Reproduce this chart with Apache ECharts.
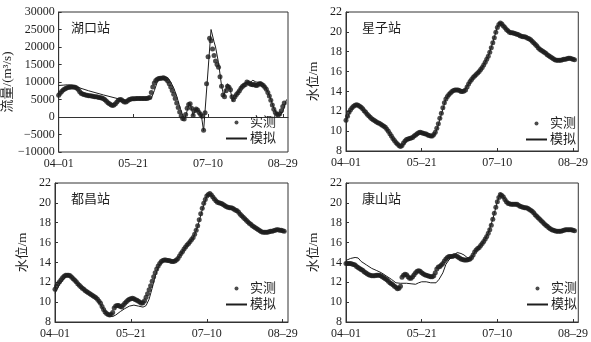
<!DOCTYPE html>
<html><head><meta charset="utf-8">
<script src="https://cdn.jsdelivr.net/npm/echarts@6/dist/echarts.min.js"></script>
<style>html,body{margin:0;padding:0;background:#fff}#c{width:591px;height:342px}</style>
</head><body><div id="c"></div>
<script>
// x positions are days counted from 04-01
const xTickDays = [0, 50, 100, 150];
const xTickLabels = ['04–01', '05–21', '07–10', '08–29'];
const stationNames = ['湖口站', '星子站', '都昌站', '康山站'];
const yAxisNames = ['流量/(m³/s)', '水位/m', '水位/m', '水位/m'];
const legendNames = ['实测', '模拟'];

// observed (daily, day 0 = 04-01)
const obsHukou = [6200,6800,7300,7700,8000,8200,8400,8500,8600,8600,8600,8500,8300,7900,7300,6800,6600,6400,6300,6200,
6100,6100,6000,5900,5800,5800,5700,5600,5500,5400,5200,4900,4500,4100,3800,3500,3300,3400,3800,4300,
4800,5000,4900,4600,4300,4300,4600,4900,5100,5200,5200,5200,5300,5300,5300,5300,5300,5300,5300,5300,
5400,5600,7000,8600,9700,10400,10800,11000,11100,11100,11200,11100,10800,10300,9500,8600,7600,6500,5300,4000,
2700,1400,300,-400,-600,700,2500,3600,3800,2500,400,1800,2300,2000,1300,700,200,-3800,1200,9500,
17200,22500,21800,19400,17600,16000,15000,14200,11500,8800,6300,5800,7500,8800,8500,7800,5800,4900,5800,6400,
6900,7500,8200,8700,9100,9300,10000,9800,9500,9300,9200,9300,9000,9100,9400,9600,9300,9000,8500,7900,
7000,6000,4800,3400,2200,1300,800,600,900,1800,3000,4000];
const obsXingzi = [11.1,11.5,11.9,12.15,12.35,12.5,12.6,12.65,12.6,12.5,12.4,12.25,12.05,11.9,11.7,11.55,11.4,11.25,11.15,11.05,
10.95,10.85,10.8,10.7,10.6,10.5,10.4,10.2,10.0,9.75,9.5,9.25,9.05,8.85,8.7,8.55,8.45,8.55,8.8,9.0,
9.15,9.2,9.25,9.3,9.35,9.5,9.6,9.75,9.85,9.9,9.85,9.8,9.75,9.7,9.6,9.55,9.5,9.5,9.65,9.9,
10.3,10.75,11.3,11.8,12.35,12.85,13.25,13.5,13.7,13.85,14.0,14.1,14.15,14.15,14.15,14.1,14.0,14.0,14.05,14.15,
14.45,14.75,15.0,15.2,15.4,15.55,15.7,15.85,16.0,16.2,16.4,16.65,16.95,17.25,17.55,17.95,18.4,18.9,19.4,19.95,
20.45,20.75,20.9,20.8,20.6,20.45,20.25,20.1,19.95,19.9,19.9,19.85,19.8,19.75,19.7,19.6,19.55,19.5,19.5,19.45,
19.35,19.3,19.2,19.05,18.9,18.75,18.6,18.4,18.25,18.15,18.05,17.95,17.85,17.7,17.6,17.5,17.4,17.3,17.2,17.15,
17.15,17.15,17.15,17.2,17.25,17.25,17.3,17.35,17.35,17.3,17.25,17.2];
const obsDuchang = [11.3,11.6,11.85,12.05,12.25,12.45,12.6,12.7,12.7,12.7,12.65,12.5,12.35,12.2,12.05,11.85,11.7,11.55,11.4,11.3,
11.15,11.05,10.95,10.85,10.75,10.65,10.55,10.45,10.3,10.1,9.9,9.55,9.25,9.0,8.85,8.75,8.7,8.75,8.95,9.4,
9.6,9.65,9.65,9.55,9.5,9.7,9.9,10.05,10.2,10.3,10.35,10.4,10.35,10.25,10.2,10.1,10.0,9.9,9.95,10.15,
10.5,10.85,11.25,11.65,12.1,12.55,12.95,13.35,13.65,13.9,14.1,14.2,14.25,14.25,14.2,14.2,14.15,14.1,14.1,14.15,
14.25,14.4,14.65,14.9,15.1,15.35,15.55,15.75,15.9,16.1,16.3,16.5,16.85,17.25,17.7,18.3,18.9,19.45,19.95,20.35,
20.7,20.85,20.95,20.8,20.6,20.4,20.2,20.05,20.0,19.95,19.9,19.8,19.7,19.6,19.55,19.5,19.5,19.45,19.35,19.25,
19.2,19.05,18.85,18.7,18.55,18.4,18.25,18.1,17.95,17.85,17.7,17.6,17.5,17.4,17.3,17.2,17.1,17.05,17.05,17.05,
17.05,17.1,17.15,17.15,17.2,17.25,17.3,17.3,17.25,17.25,17.2,17.15];
const obsKangshan = [13.9,13.9,13.9,13.9,13.85,13.8,13.75,13.6,13.5,13.4,13.3,13.2,13.05,12.95,12.85,12.75,12.7,12.65,12.65,12.65,
12.7,12.7,12.7,12.65,12.55,12.45,12.35,12.25,12.1,11.95,11.85,11.75,11.6,11.5,11.35,11.4,11.6,12.5,12.7,12.8,
12.75,12.55,12.4,12.4,12.55,12.75,12.95,13.1,13.15,13.1,12.95,12.85,12.75,12.7,12.65,12.6,12.55,12.55,12.65,12.95,
13.35,13.55,13.6,13.75,13.9,14.15,14.35,14.5,14.6,14.6,14.6,14.65,14.7,14.65,14.55,14.45,14.35,14.3,14.25,14.25,
14.25,14.3,14.35,14.5,14.75,15.05,15.25,15.4,15.5,15.7,15.9,16.1,16.35,16.6,16.95,17.3,17.75,18.35,18.95,19.55,
20.1,20.55,20.85,20.75,20.6,20.35,20.1,19.95,19.9,19.85,19.85,19.85,19.85,19.85,19.75,19.65,19.6,19.55,19.5,19.5,
19.45,19.35,19.25,19.15,19.0,18.8,18.65,18.5,18.35,18.2,18.05,17.9,17.75,17.65,17.5,17.4,17.3,17.25,17.2,17.15,
17.15,17.15,17.15,17.2,17.25,17.3,17.3,17.3,17.3,17.3,17.25,17.2];

// simulated (vertices: day, value)
const simHukouDays = [0,3,6,9,12,20,30,40,45,50,55,60,62,64,66,68,71,73,75,77,79,81,83,84.5,86,87.5,88.5,90,91,92,94,95.5,97,102,104,105,107,109,110.5,112,113,114,115,116.5,118,120,122,125,126,128,130,131,132,133,134,136,138,140,142,144,146,148,150,152.5];
const simHukou = [9000,9100,9200,9100,8600,7500,6300,5200,4800,5000,5100,5100,5300,7500,10000,11000,11400,11200,10000,8300,6000,3000,500,-400,1800,3800,3000,400,1500,2600,1500,500,-4000,25000,21500,20000,15500,9000,6000,8000,9500,8800,7500,4500,5500,7000,8500,9800,10300,9800,10500,10600,10000,9600,9900,9700,8800,7200,5000,2500,900,500,1500,5000];
const simXingziDays = [0,3,6,8,12,16,20,26,28,31,34,36.5,38,40,43,47,49,51,55,57,59,61,63,66,68,70,73,76,78,81,84,88,91,94,97,100,102,104,108,112,117,120,125,130,135,139,142,148,152];
const simXingzi = [11.0,12.1,12.6,12.6,12.0,11.35,10.95,10.35,9.95,9.2,8.65,8.4,8.6,9.0,9.2,9.6,9.8,9.75,9.45,9.4,9.75,10.6,11.7,13.2,13.7,14.0,14.15,14.0,14.05,14.75,15.4,16.0,16.65,17.55,18.9,20.5,21.0,20.6,19.95,19.8,19.5,19.35,18.75,18.05,17.5,17.15,17.15,17.35,17.2];
const simDuchangDays = [0,3,7,10,14,18,22,27,30,33,36,38,40,43,46,49,52,55,58,60,62,64,66,68,70,73,77,80,83,87,91,94,97,100,102,104,108,113,117,120,125,130,135,139,143,147,152];
const simDuchang = [10.9,11.8,12.55,12.6,11.95,11.3,10.85,10.4,9.75,9.0,8.6,8.55,8.7,9.05,9.35,9.6,9.7,9.6,9.5,9.65,10.3,11.4,12.6,13.5,14.0,14.2,14.1,14.2,14.85,15.7,16.45,17.6,19.3,20.65,21.0,20.6,20.0,19.6,19.45,19.2,18.4,17.7,17.2,17.05,17.15,17.3,17.1];
const simKangshanDays = [0,3,6,8,10,13.5,17,20,23.5,27,30,33,36,40,43,46,48,50,53,56,59.5,61.5,64,66,68,71.5,73.5,76,78,80,82.5,84,86,88,91,94,97,100,102,104,107,112,116,120,125,130,135,139,142,146,152];
const simKangshan = [14.2,14.4,14.5,14.45,14.1,13.75,13.4,13.2,12.95,12.6,12.3,11.95,11.9,11.9,11.85,11.8,11.95,12.05,12.05,11.95,11.95,12.3,12.95,13.8,14.25,14.75,15.0,14.9,14.75,14.5,14.35,14.75,15.25,15.5,16.1,16.95,18.35,20.1,21.0,20.6,20.0,19.85,19.6,19.45,18.8,18.05,17.4,17.15,17.15,17.3,17.2];

const obsAll = [obsHukou, obsXingzi, obsDuchang, obsKangshan];
const simDaysAll = [simHukouDays, simXingziDays, simDuchangDays, simKangshanDays];
const simAll = [simHukou, simXingzi, simDuchang, simKangshan];
const yRanges = [[-10000, 30000, 5000], [8, 22, 2], [8, 22, 2], [8, 22, 2]];

const FONT = "'Liberation Serif','Noto Sans CJK SC',serif";
const INK = '#1e1e1e';
const grids = [
  {left: 55, top: 12, width: 233, height: 140},
  {left: 346, top: 12, width: 233, height: 139},
  {left: 55, top: 183, width: 233, height: 139},
  {left: 346, top: 183, width: 233, height: 139}
];
const nameGaps = [43, 26, 26, 26];
const legendPos = [
  {left: 220, top: 111},
  {left: 520, top: 112},
  {left: 220, top: 277},
  {left: 521, top: 277}
];

const option = {
  animation: false,
  textStyle: {fontFamily: FONT},
  grid: grids.map(g => Object.assign({show: true, borderColor: '#333', borderWidth: 1, containLabel: false}, g)),
  title: stationNames.map((t, i) => ({
    text: t, left: grids[i].left + 11, top: grids[i].top + 5,
    textStyle: {fontFamily: FONT, fontSize: 13, fontWeight: 'normal', color: INK}
  })),
  legend: legendPos.map((p, i) => ({
    left: p.left, top: p.top, orient: 'vertical',
    data: [{name: legendNames[0]}, {name: legendNames[1], itemStyle: {opacity: 0}}],
    itemWidth: 21, itemHeight: 4, itemGap: 3, selectedMode: false,
    textStyle: {fontFamily: FONT, fontSize: 13, color: INK, padding: [0, 0, 0, -2]}
  })),
  xAxis: grids.map((g, i) => ({
    type: 'value', gridIndex: i, min: 0, max: 153.5, interval: 50,
    splitLine: {show: false},
    axisLine: {show: true, lineStyle: {color: '#333', width: 1}},
    axisTick: {show: true, inside: true, length: 3, lineStyle: {color: '#333'}},
    axisLabel: {
      show: true, margin: 6, fontSize: 12, color: INK, fontFamily: FONT, showMaxLabel: false,
      formatter: v => { const k = xTickDays.indexOf(v); return k >= 0 ? xTickLabels[k] : ''; }
    }
  })),
  yAxis: grids.map((g, i) => ({
    type: 'value', gridIndex: i, min: yRanges[i][0], max: yRanges[i][1], interval: yRanges[i][2],
    name: yAxisNames[i], nameLocation: 'middle', nameGap: nameGaps[i], nameRotate: 90,
    nameTextStyle: {fontFamily: FONT, fontSize: 13, color: INK},
    splitLine: {show: false},
    axisLine: {show: true, lineStyle: {color: '#333', width: 1}},
    axisTick: {show: true, inside: true, length: 3, lineStyle: {color: '#333'}},
    axisLabel: {margin: 4, fontSize: 12, color: INK, fontFamily: FONT,
      formatter: v => String(v).replace('-', '−')}
  })),
  series: []
};

for (let i = 0; i < 4; i++) {
  option.series.push({
    name: legendNames[0], type: 'scatter', xAxisIndex: i, yAxisIndex: i,
    symbol: 'circle', symbolSize: 5, itemStyle: {color: INK},
    data: obsAll[i].map((v, d) => [d, v]), z: 3
  });
  option.series.push({
    name: legendNames[1], type: 'line', xAxisIndex: i, yAxisIndex: i,
    symbol: 'none', showSymbol: false, lineStyle: {color: INK, width: 1}, itemStyle: {color: INK},
    data: simDaysAll[i].map((d, k) => [d, simAll[i][k]]), z: 2
  });
}

const chart = echarts.init(document.getElementById('c'), null, {renderer: 'canvas'});
chart.setOption(option);
</script></body></html>
